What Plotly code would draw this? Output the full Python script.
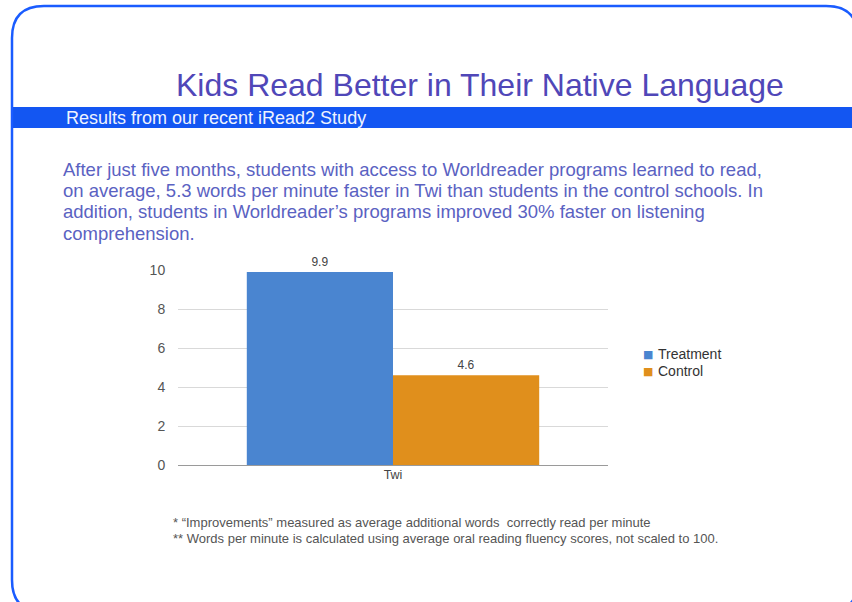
import plotly.graph_objects as go

# --- data ---
categories = ["Twi"]
treatment = [9.9]
control = [4.6]
series_names = ["Treatment", "Control"]
y_ticks = [0, 2, 4, 6, 8, 10]

title_text = "Kids Read Better in Their Native Language"
banner_text = "Results from our recent iRead2 Study"
intro_lines = [
    "After just five months, students with access to Worldreader programs learned to read,",
    "on average, 5.3 words per minute faster in Twi than students in the control schools. In",
    "addition, students in Worldreader\u2019s programs improved 30% faster on listening",
    "comprehension.",
]
footnotes = [
    "* \u201cImprovements\u201d measured as average additional words  correctly read per minute",
    "** Words per minute is calculated using average oral reading fluency scores, not scaled to 100.",
]

W, H = 852, 602


def px(x):
    return x / W


def py(y):
    return 1 - y / H


FONT = "Liberation Sans, Arial, Helvetica, sans-serif"
BLUE = "#4a85d0"
ORANGE = "#e08f1c"
series_colors = [BLUE, ORANGE]

fig = go.Figure()
for name, values, color in zip(series_names, [treatment, control], series_colors):
    fig.add_trace(go.Bar(
        x=categories, y=values, name=name, showlegend=False,
        marker=dict(color=color, line=dict(width=0)),
        text=[f"{v:.1f}" for v in values], textposition="outside",
        textfont=dict(size=12, color="#444"), cliponaxis=False,
    ))

# rounded frame around the slide
L, T, R, B, r = 12, 6, 858, 612, 32
frame = (
    f"M {px(L)},{py(T + r)} "
    f"Q {px(L)},{py(T)} {px(L + r)},{py(T)} "
    f"L {px(R - r)},{py(T)} "
    f"Q {px(R)},{py(T)} {px(R)},{py(T + r)} "
    f"L {px(R)},{py(B - r)} "
    f"Q {px(R)},{py(B)} {px(R - r)},{py(B)} "
    f"L {px(L + r)},{py(B)} "
    f"Q {px(L)},{py(B)} {px(L)},{py(B - r)} Z"
)
shapes = [
    dict(type="rect", xref="paper", yref="paper",
         x0=px(13), x1=px(852), y0=py(128), y1=py(107),
         fillcolor="#1356f2", line=dict(width=0), layer="below"),
    dict(type="path", xref="paper", yref="paper", path=frame,
         line=dict(color="#1a5cff", width=2.5), layer="above"),
]

annotations = [
    dict(text=title_text, x=px(480), y=py(85), xref="paper", yref="paper",
         xanchor="center", yanchor="middle", showarrow=False,
         font=dict(family=FONT, size=32, color="#5047b8")),
    dict(text=banner_text, x=px(64), y=py(117.5), xref="paper", yref="paper",
         xanchor="left", yanchor="middle", showarrow=False,
         font=dict(family=FONT, size=18, color="#eef3ff")),
]
for i, line in enumerate(intro_lines):
    annotations.append(dict(
        text=line, x=px(61), y=py(169 + i * 21.5), xref="paper", yref="paper",
        xanchor="left", yanchor="middle", showarrow=False,
        font=dict(family=FONT, size=18.5, color="#5a62c2"),
    ))
for i, line in enumerate(footnotes):
    annotations.append(dict(
        text=line, x=px(171), y=py(522 + i * 16), xref="paper", yref="paper",
        xanchor="left", yanchor="middle", showarrow=False,
        font=dict(family=FONT, size=13, color="#555"),
    ))

# series key beside the chart
for i, (name, color) in enumerate(zip(series_names, series_colors)):
    yk = py(354 + i * 17)
    annotations.append(dict(
        text="\u25a0", x=px(648), y=yk, xref="paper", yref="paper",
        xanchor="center", yanchor="middle", showarrow=False,
        font=dict(family="DejaVu Sans", size=11, color=color),
    ))
    annotations.append(dict(
        text=name, x=px(656), y=yk, xref="paper", yref="paper",
        xanchor="left", yanchor="middle", showarrow=False,
        font=dict(family=FONT, size=14, color="#333"),
    ))

fig.update_layout(
    template="none",
    width=W, height=H,
    margin=dict(l=0, r=0, t=0, b=0, autoexpand=False),
    paper_bgcolor="white", plot_bgcolor="white",
    barmode="group", bargap=0.32, bargroupgap=0,
    font=dict(family=FONT, color="#555"),
    showlegend=False,
    shapes=shapes,
    annotations=annotations,
    xaxis=dict(domain=[px(178), px(608)], showgrid=False, zeroline=False,
               showline=False, ticks="", automargin=False,
               tickfont=dict(size=12.5, color="#444")),
    yaxis=dict(domain=[py(465), py(270)], range=[0, 10], tickvals=y_ticks,
               showgrid=True, gridcolor="#d9d9d9", gridwidth=1,
               zeroline=True, zerolinecolor="#9a9a9a", zerolinewidth=1,
               showline=False, ticks="outside", ticklen=9, automargin=False,
               tickcolor="rgba(0,0,0,0)",
               tickfont=dict(size=14, color="#555")),
)

fig.write_html("out.html")
